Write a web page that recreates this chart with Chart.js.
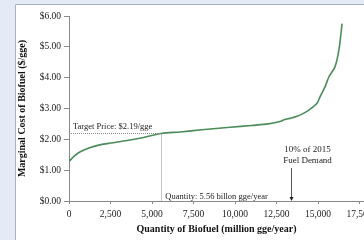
<!DOCTYPE html>
<html>
<head>
<meta charset="utf-8">
<script src="https://cdn.jsdelivr.net/npm/chart.js@4/dist/chart.umd.min.js"></script>
<style>
html,body{margin:0;padding:0;background:#e4eaf6;}
canvas{display:block;}
</style>
</head>
<body>
<canvas id="c" width="364" height="240"></canvas>
<script>
// Quantity of biofuel (million gge/year)
const quantities = [0,300,650,1200,1850,2500,3500,4500,5560,6700,8000,9700,11000,12000,12700,13000,13300,13700,14150,14450,14940,15120,15420,15660,16020,16260,16450];
// Marginal cost ($/gge)
const costs = [1.28,1.45,1.59,1.72,1.82,1.88,1.96,2.06,2.19,2.24,2.31,2.39,2.45,2.50,2.58,2.64,2.68,2.74,2.85,2.95,3.17,3.38,3.70,4.03,4.35,4.90,5.75];
const xTicks = [0,2500,5000,7500,10000,12500,15000,17500];
const yTicks = [0,1,2,3,4,5,6];
const targetPrice = 2.19;
const targetQuantity = 5560;
const demandQuantity = 13400;
const yTitle = 'Marginal Cost of Biofuel ($/gge)';
const xTitle = 'Quantity of Biofuel (million gge/year)';
const targetLabel = 'Target Price: $2.19/gge';
const quantityLabel = 'Quantity: 5.56 billon gge/year';
const demandLabel = ['10% of 2015', 'Fuel Demand'];

const SERIF = '"Liberation Serif", "DejaVu Serif", serif';

const panelPlugin = {
  id: 'panel',
  beforeDraw(chart) {
    const ctx = chart.ctx;
    ctx.save();
    ctx.fillStyle = '#e4eaf6';
    ctx.fillRect(0, 0, chart.width, chart.height);
    ctx.fillStyle = '#ffffff';
    ctx.fillRect(15, 4, chart.width, chart.height);
    ctx.strokeStyle = '#a8b0c2';
    ctx.lineWidth = 1;
    ctx.beginPath();
    ctx.moveTo(15.5, chart.height);
    ctx.lineTo(15.5, 4.5);
    ctx.lineTo(chart.width, 4.5);
    ctx.stroke();
    ctx.restore();
  }
};

const notesPlugin = {
  id: 'notes',
  afterDatasetsDraw(chart) {
    const ctx = chart.ctx;
    const xs = chart.scales.x, ys = chart.scales.y;
    const area = chart.chartArea;
    const px = xs.getPixelForValue(targetQuantity);
    const py = ys.getPixelForValue(targetPrice);
    const x0 = xs.getPixelForValue(0);
    const y0 = ys.getPixelForValue(0);
    ctx.save();
    // y axis title
    ctx.save();
    ctx.fillStyle = '#111';
    ctx.font = 'bold 10px ' + SERIF;
    ctx.textAlign = 'center';
    ctx.textBaseline = 'middle';
    ctx.translate(22, (area.top + area.bottom) / 2);
    ctx.rotate(-Math.PI / 2);
    ctx.fillText(yTitle, 0, 0);
    ctx.restore();

    ctx.strokeStyle = '#8a8a8a';
    ctx.lineWidth = 1;
    ctx.setLineDash([1, 1]);
    ctx.beginPath();
    ctx.moveTo(x0, Math.round(py) + 0.5);
    ctx.lineTo(px, Math.round(py) + 0.5);
    ctx.moveTo(Math.round(px) + 0.5, py);
    ctx.lineTo(Math.round(px) + 0.5, y0);
    ctx.stroke();
    ctx.setLineDash([]);

    ctx.fillStyle = '#222';
    ctx.font = '8.5px ' + SERIF;
    ctx.textBaseline = 'middle';
    ctx.textAlign = 'left';
    ctx.fillText(targetLabel, x0 + 4, py - 7);
    ctx.fillText(quantityLabel, px + 4, y0 - 4);

    const ax = Math.round(xs.getPixelForValue(demandQuantity)) + 0.5;
    ctx.strokeStyle = '#555';
    ctx.beginPath();
    ctx.moveTo(ax, 168);
    ctx.lineTo(ax, y0 - 2);
    ctx.stroke();
    ctx.fillStyle = '#222';
    ctx.beginPath();
    ctx.moveTo(ax - 2, y0 - 4);
    ctx.lineTo(ax + 2, y0 - 4);
    ctx.lineTo(ax, y0);
    ctx.closePath();
    ctx.fill();
    ctx.font = '9px ' + SERIF;
    ctx.textAlign = 'center';
    ctx.fillText(demandLabel[0], ax + 16, 150);
    ctx.fillText(demandLabel[1], ax + 16, 161);
    ctx.restore();
  }
};

new Chart(document.getElementById('c'), {
  type: 'line',
  data: {
    datasets: [{
      data: quantities.map((q, i) => ({x: q, y: costs[i]})),
      borderColor: '#4a8c5a',
      borderWidth: 1.6,
      pointRadius: 0,
      tension: 0.3,
      fill: false
    }]
  },
  options: {
    responsive: false,
    animation: false,
    events: [],
    layout: {padding: {top: 16, left: 0, right: 0, bottom: 0}},
    plugins: {legend: {display: false}, tooltip: {enabled: false}},
    scales: {
      x: {
        type: 'linear',
        min: 0,
        max: 17770,
        afterBuildTicks(s) { s.ticks = xTicks.map(v => ({value: v})); },
        afterFit(s) { s.height = 39; s.paddingLeft = 0; s.paddingRight = 0; },
        border: {display: true, color: '#8a8a8a', width: 1},
        grid: {display: true, drawOnChartArea: false, drawTicks: true, tickLength: 3, color: '#8a8a8a'},
        ticks: {
          color: '#222',
          font: {family: SERIF, size: 9.5},
          padding: 5,
          maxRotation: 0,
          autoSkip: false,
          callback: v => v.toLocaleString('en-US')
        },
        title: {
          display: true,
          text: xTitle,
          color: '#111',
          font: {family: SERIF, size: 10, weight: 'bold'},
          padding: {top: 0, bottom: 5}
        }
      },
      y: {
        type: 'linear',
        min: 0,
        max: 6,
        afterBuildTicks(s) { s.ticks = yTicks.map(v => ({value: v})); },
        afterFit(s) { s.width = 69; s.paddingTop = 0; s.paddingBottom = 0; },
        border: {display: true, color: '#8a8a8a', width: 1},
        grid: {display: true, drawOnChartArea: false, drawTicks: true, tickLength: 5, color: '#8a8a8a'},
        ticks: {
          color: '#222',
          font: {family: SERIF, size: 9.5},
          padding: 3,
          callback: v => '$' + v.toFixed(2)
        },
        title: {display: false}
      }
    }
  },
  plugins: [panelPlugin, notesPlugin]
});
</script>
</body>
</html>
